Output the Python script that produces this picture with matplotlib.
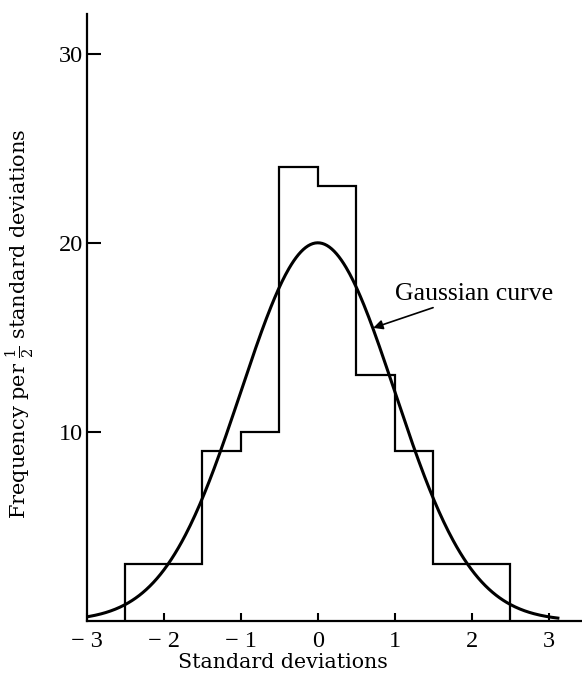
import matplotlib
matplotlib.use("Agg")
import matplotlib.pyplot as plt
import numpy as np

plt.rcParams['font.family'] = ['Liberation Serif', 'DejaVu Serif']
plt.rcParams['mathtext.fontset'] = 'dejavuserif'

# histogram of deviations, bins of half a standard deviation
bin_edges = [-2.5, -2.0, -1.5, -1.0, -0.5, 0.0, 0.5, 1.0, 1.5, 2.0, 2.5]
counts = [3, 3, 9, 10, 24, 23, 13, 9, 3, 3]

# fitted gaussian: peak height and width
peak = 20
sigma = 1.0
curve_range = (-3.05, 3.12)

x_ticks = [-3, -2, -1, 0, 1, 2, 3]
x_labels = ["\u2212 3", "\u2212 2", "\u2212 1", "0", "1", "2", "3"]
y_ticks = [10, 20, 30]

fig = plt.figure(figsize=(5.82, 6.79), dpi=100)
ax = fig.add_axes([0.1495, 0.0854, 0.85, 0.894])

ax.stairs(counts, bin_edges, color='black', linewidth=1.6)

xs = np.linspace(curve_range[0], curve_range[1], 400)
ax.plot(xs, peak * np.exp(-xs**2 / (2 * sigma**2)), color='black', linewidth=2.2)

ax.annotate("Gaussian curve", xy=(0.72, 15.5), xytext=(1.0, 17.3),
            fontsize=18.5, va='center', ha='left',
            arrowprops=dict(arrowstyle='-|>', color='black', lw=1.2,
                            shrinkA=0, shrinkB=0, mutation_scale=14))

ax.set_xlim(-3, 3.43)
ax.set_ylim(0, 32.1)
ax.set_xticks(x_ticks)
ax.set_xticklabels(x_labels)
ax.set_yticks(y_ticks)

for side in ['top', 'right']:
    ax.spines[side].set_visible(False)
for side in ['left', 'bottom']:
    ax.spines[side].set_linewidth(1.6)

ax.tick_params(axis='x', direction='in', length=6, width=1.5, labelsize=17.5, pad=7)
ax.tick_params(axis='y', direction='in', length=10, width=1.5, labelsize=17.5, pad=3)

ax.set_xlabel("Standard deviations", family=['DejaVu Serif'], fontsize=14.8)
ax.xaxis.set_label_coords(0.396, -0.052)
ax.set_ylabel(r"Frequency per $\frac{1}{2}$ standard deviations",
              family=['DejaVu Serif'], fontsize=15)
ax.yaxis.set_label_coords(-0.104, 0.49)

fig.savefig("out.png", dpi=100)
